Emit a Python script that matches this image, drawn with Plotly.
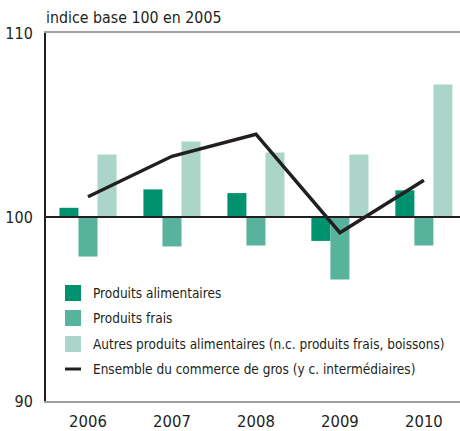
import plotly.graph_objects as go

years = ["2006", "2007", "2008", "2009", "2010"]
produits_alimentaires = [100.5, 101.5, 101.3, 98.7, 101.45]
produits_frais = [97.85, 98.4, 98.45, 96.6, 98.45]
autres_produits = [103.4, 104.1, 103.5, 103.4, 107.2]
ensemble_commerce = [101.1, 103.3, 104.5, 99.15, 102.0]

names = [
    "Produits alimentaires",
    "Produits frais",
    "Autres produits alimentaires (n.c. produits frais, boissons)",
    "Ensemble du commerce de gros (y c. intermédiaires)",
]
colors = ["#00926f", "#58b39c", "#abd5c9", "#231f20"]
FONT = "DejaVu Sans Condensed, Liberation Sans Narrow, Liberation Sans, sans-serif"

W, H = 460, 431
ML, MR, MT, MB = 46, 0, 33, 30
PW, PH = W - ML - MR, H - MT - MB


def px(x):
    return (x - ML) / PW


def py(y):
    return (H - MB - y) / PH


xs = list(range(len(years)))
fig = go.Figure()
for i, series in enumerate([produits_alimentaires, produits_frais, autres_produits]):
    fig.add_trace(go.Bar(
        x=xs, y=[v - 100 for v in series], base=100,
        name=names[i], marker=dict(color=colors[i], line=dict(width=0)),
        showlegend=False,
    ))
fig.add_trace(go.Scatter(
    x=xs, y=ensemble_commerce, mode="lines", name=names[3],
    line=dict(color=colors[3], width=3.5), showlegend=False,
))

fig.add_shape(type="line", xref="paper", x0=0, x1=1, yref="y", y0=100, y1=100,
              line=dict(color="#231f20", width=2), layer="above")

# legend (custom)
leg_y = [293, 318, 344, 369]
for i, name in enumerate(names):
    cy = leg_y[i]
    if i < 3:
        fig.add_shape(type="rect", xref="paper", yref="paper",
                      x0=px(65), x1=px(81), y0=py(cy + 8), y1=py(cy - 8),
                      fillcolor=colors[i], line=dict(width=0))
    else:
        fig.add_shape(type="line", xref="paper", yref="paper",
                      x0=px(65), x1=px(81), y0=py(cy), y1=py(cy),
                      line=dict(color=colors[i], width=3))
    fig.add_annotation(text=name, xref="paper", yref="paper", x=px(91), y=py(cy),
                       xanchor="left", yanchor="middle", showarrow=False,
                       font=dict(family=FONT, size=13.5, color="#231f20"))

fig.add_annotation(text="<b>à 2010</b>", xref="paper", yref="paper", x=px(32), y=py(5),
                   xanchor="left", yanchor="bottom", showarrow=False,
                   font=dict(family=FONT, size=20, color="#231f20"))
fig.add_annotation(text="indice base 100 en 2005", xref="paper", yref="paper", x=px(44), y=py(29),
                   xanchor="left", yanchor="bottom", showarrow=False,
                   font=dict(family=FONT, size=15.8, color="#231f20"))

fig.update_layout(
    width=W, height=H,
    margin=dict(l=ML, r=MR, t=MT, b=MB, autoexpand=False),
    plot_bgcolor="white", paper_bgcolor="white",
    barmode="group", bargap=0.32, bargroupgap=0,
    font=dict(family=FONT, size=16, color="#231f20"),
    showlegend=False,
    xaxis=dict(range=[-0.5, 4.43], tickvals=xs, ticktext=years, showgrid=False,
               showline=True, linecolor="#a0a0a0", linewidth=1.5, mirror=True,
               ticks="", tickfont=dict(size=16.5), zeroline=False, automargin=False,
               ticklabelstandoff=4),
    yaxis=dict(range=[90, 110], tickvals=[90, 100, 110], showgrid=False,
               showline=True, linecolor="#231f20", linewidth=2, ticks="",
               ticklabelstandoff=8, tickfont=dict(size=16), zeroline=False,
               automargin=False),
)
fig.write_html("out.html", config={"displayModeBar": False},
               post_script="document.body.style.margin='0';document.body.style.overflow='hidden';")
